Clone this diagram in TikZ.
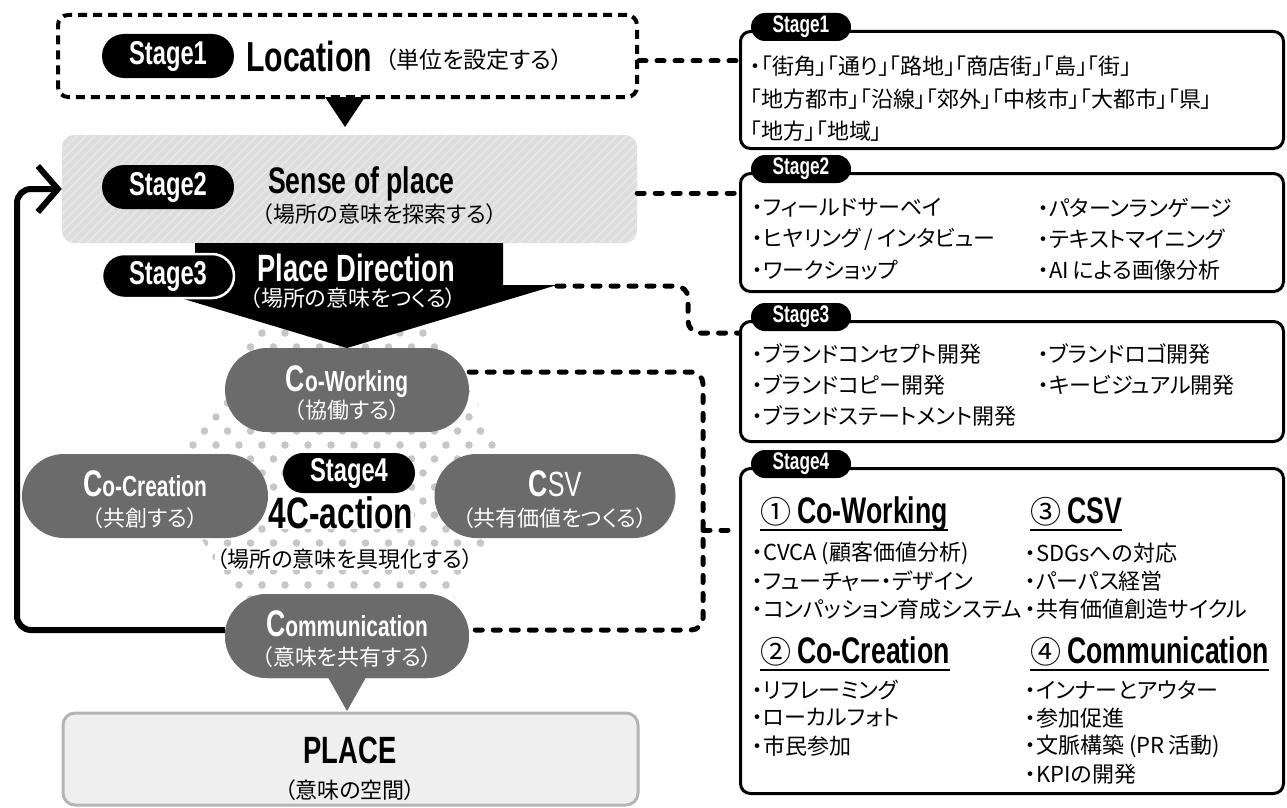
\documentclass[tikz,border=0pt]{standalone}
\usepackage{fontspec}
\usetikzlibrary{shapes.misc,arrows.meta,calc}
\newfontfamily\jp[RawFeature=+palt]{Noto Sans CJK JP}
\newfontfamily\jpn{Noto Sans CJK JP}
\newfontfamily\cond[FakeStretch=0.72]{Liberation Sans}
\newcommand\fs[1]{\fontsize{#1}{#1}\selectfont}
\newcommand\ctl[2]{{\fs{37}#1}{\fs{29}#2}}
\definecolor{pillgray}{HTML}{6B6B6B}
\definecolor{dotgray}{HTML}{C6C6C6}
\definecolor{boxgray}{HTML}{DDDDDD}
\definecolor{hatchc}{HTML}{E8E8E8}
\definecolor{placefill}{HTML}{EFEFEF}
\definecolor{placeedge}{HTML}{B4B4B4}
\tikzset{
  blackpill/.style={rounded rectangle, fill=black, text=white, minimum width=132pt, minimum height=44pt, inner sep=0pt, font=\cond\bfseries\fs{33}},
  tabpill/.style={rounded rectangle, fill=black, text=white, minimum width=100pt, minimum height=28pt, inner sep=0pt, font=\cond\bfseries\fs{24}},
  cpill/.style={rounded rectangle, fill=pillgray, minimum height=84pt, inner sep=0pt},
  rbox/.style={draw=black, line width=3pt, rounded corners=10pt, anchor=north west, inner sep=0pt, minimum width=543pt},
  body/.style={anchor=west, inner sep=0pt, font=\jp\fs{22}},
  ctitle/.style={anchor=base, inner sep=0pt, text=white, font=\cond\bfseries},
  csub/.style={inner sep=0pt, text=white, font=\jp\fs{22}},
  head/.style={anchor=base west, inner sep=0pt, font=\cond\bfseries\fs{37}},
  conn/.style={line width=5pt, dash pattern=on 7pt off 11pt, line cap=round},
}
\begin{document}
\begin{tikzpicture}[x=1pt,y=-1pt]
\useasboundingbox (0,0) rectangle (1287,808);
% dotted hexagon
\begin{scope}
\clip (522,481) -- (433.5,328) -- (256.5,328) -- (168,481) -- (256.5,634) -- (433.5,634) -- cycle;
\foreach \j in {0,...,21}{
  \foreach \i in {0,...,15}{
    \pgfmathsetmacro\dx{170+\i*23+mod(\j,2)*11.5}
    \pgfmathsetmacro\dy{333+\j*14}
    \fill[dotgray] (\dx,\dy) circle[radius=3.8pt];
  }
}
\end{scope}
% Stage 1
\node[draw, line width=4pt, dash pattern=on 9pt off 6pt, rounded corners=10pt, minimum width=579pt, minimum height=82pt] (s1box) at (347.5,56) {};
\node[blackpill] (p1) at (168,56) {Stage1};
\node[anchor=base west, inner sep=0pt, font=\cond\bfseries\fs{42}] (loc) at (246,71) {Location};
\node[anchor=base west, inner sep=0pt, font=\jp\fs{23}] (locj) at (385,68) {（単位を設定する）};
\fill (325,97) -- (365,97) -- (345,127) -- cycle;
% Stage 2
\node[fill=boxgray, rounded corners=12pt, minimum width=575pt, minimum height=108pt] (s2box) at (349.5,189) {};
\begin{scope}
\clip[rounded corners=12pt] (62,135) rectangle (637,243);
\foreach \k in {-120,-111,...,640}{
  \draw[hatchc, line width=1.5pt] (\k,243) -- ++(108,-108);
}
\end{scope}
\node[blackpill] (p2) at (168,187) {Stage2};
\node[anchor=base west, inner sep=0pt, font=\cond\bfseries\fs{37}] (sop) at (268,193) {Sense of place};
\node[anchor=west, inner sep=0pt, font=\jp\fs{22}] (sopj) at (262,214) {（場所の意味を探索する）};
% Stage 3
\fill (195,243) -- (503,243) -- (503,285) -- (557,285) -- (347,348) -- (137,285) -- (195,285) -- cycle;
\coordinate (s3tip) at (557,286);
\node[blackpill, draw=white, line width=2.5pt] (p3) at (168,276) {Stage3};
\node[anchor=base west, inner sep=0pt, text=white, font=\cond\bfseries\fs{38}] (pd) at (257,281) {Place Direction};
\node[anchor=west, inner sep=0pt, text=white, font=\jp\fs{22}] (pdj) at (250,298) {（場所の意味をつくる）};
% feedback loop
\node[cpill, minimum width=244pt] (comm) at (347,636) {};
\draw[line width=6pt, rounded corners=14pt, -{Straight Barb[length=20pt,width=46pt]}] ([yshift=6pt]comm.west) -- (17,630) -- (17,189) -- (s2box.west);
% 4C pills
\node[cpill, minimum width=244pt] (cw) at (347,390) {};
\node[cpill, minimum width=246pt] (cc) at (145,496) {};
\node[cpill, minimum width=241pt] (csv) at (555,496) {};
\node[cpill, minimum width=244pt] (comm) at (347,636) {};
\fill[pillgray] (325,672) -- (369,672) -- (347,711) -- cycle;
\node[ctitle] at ($(cw)+(0,1)$) {\ctl{C}{o-Working}};
\node[csub] at ($(cw)+(0,20)$) {（協働する）};
\node[ctitle] at ($(cc)+(0,0)$) {\ctl{C}{o-Creation}};
\node[csub] at ($(cc)+(0,22)$) {（共創する）};
\node[ctitle] at ($(csv)+(0,0)$) {{\fs{37}C}{\mdseries\fs{35}SV}};
\node[csub] at ($(csv)+(0,22)$) {（共有価値をつくる）};
\node[ctitle] at ($(comm)+(0,0)$) {\ctl{C}{ommunication}};
\node[csub] at ($(comm)+(0,21)$) {（意味を共有する）};
\node[blackpill, minimum height=40pt] (p4) at (349,473) {Stage4};
\node[anchor=base, inner sep=1pt, fill=white, font=\cond\bfseries\fs{44}] (act) at (341,528) {4C-action};
\node[inner sep=1pt, fill=white, font=\jp\fs{22}] (actj) at (345,559) {（場所の意味を具現化する）};
% PLACE
\node[fill=placefill, draw=placeedge, line width=3pt, rounded corners=12pt, minimum width=575pt, minimum height=92pt] (place) at (350.5,759) {};
\node[inner sep=0pt, font=\cond\bfseries\fs{38}] at (350,750) {PLACE};
\node[inner sep=0pt, font=\jp\fs{22}] at (350,790) {（意味の空間）};
% right boxes
\node[rbox, minimum height=117pt] (r1) at (739,30) {};
\node[tabpill] (t1) at (801,27) {Stage1};
\node[body] at (750,66) {・「街角」「通り」「路地」「商店街」「島」「街」};
\node[body] at (750,99) {「地方都市」「沿線」「郊外」「中核市」「大都市」「県」};
\node[body] at (750,131) {「地方」「地域」};
\node[rbox, minimum height=118pt] (r2) at (739,172) {};
\node[tabpill] (t2) at (801,169) {Stage2};
\node[body] at (752,208) {・フィールドサーベイ};
\node[body] at (752,239) {・ヒヤリング\,/\,インタビュー};
\node[body] at (752,270) {・ワークショップ};
\node[body] at (1038,208) {・パターンランゲージ};
\node[body] at (1038,239) {・テキストマイニング};
\node[body] at (1038,270) {・AI\,による画像分析};
\node[rbox, minimum height=120pt] (r3) at (739,320) {};
\node[tabpill] (t3) at (801,317) {Stage3};
\node[body] at (752,354) {・ブランドコンセプト開発};
\node[body] at (752,385) {・ブランドコピー開発};
\node[body] at (752,416) {・ブランドステートメント開発};
\node[body] at (1038,354) {・ブランドロゴ開発};
\node[body] at (1038,385) {・キービジュアル開発};
\node[rbox, minimum height=325pt] (r4) at (739,467) {};
\node[tabpill] (t4) at (801,464) {Stage4};
\node[head] (h1) at (760,523) {{\jpn\mdseries\fs{31}①}\,Co-Working};
\node[head] (h3) at (1030,523) {{\jpn\mdseries\fs{31}③}\,CSV};
\node[head] (h2) at (760,663) {{\jpn\mdseries\fs{31}②}\,Co-Creation};
\node[head] (h4) at (1030,663) {{\jpn\mdseries\fs{31}④}\,Communication};
\foreach \h in {h1,h2,h3,h4}{
  \draw[line width=2.5pt] ([yshift=-7pt]\h.base west) -- ([yshift=-7pt]\h.base east);
}
\node[body] at (752,553) {・CVCA (顧客価値分析)};
\node[body] at (752,581) {・フューチャー・デザイン};
\node[body] at (752,609) {・コンパッション育成システム};
\node[body] at (1025,553) {・SDGsへの対応};
\node[body] at (1025,581) {・パーパス経営};
\node[body] at (1025,609) {・共有価値創造サイクル};
\node[body] at (752,690) {・リフレーミング};
\node[body] at (752,718) {・ローカルフォト};
\node[body] at (752,746) {・市民参加};
\node[body] at (1025,690) {・インナーとアウター};
\node[body] at (1025,718) {・参加促進};
\node[body] at (1025,746) {・文脈構築 (PR\,活動)};
\node[body] at (1025,774) {・KPIの開発};
% dashed connectors
\draw[conn] ([yshift=-5pt]s1box.east) -- ([yshift=-5pt]s1box.east -| r1.west);
\draw[conn] ([yshift=-4pt]s2box.east) -- ([yshift=-4pt]s2box.east -| r2.west);
\coordinate (c3a) at (688,286);
\coordinate (c3b) at (688,333);
\draw[conn, rounded corners=12pt] (s3tip) -- (c3a) -- (c3b) -- (c3b -| r3.west);
\coordinate (c4a) at (703,372);
\coordinate (c4b) at (703,630);
\coordinate (c4m) at (703,530);
\draw[conn, rounded corners=12pt] ([yshift=18pt]cw.east) -- (c4a) -- (c4b) -- ([yshift=6pt]comm.east);
\draw[conn] (c4m) -- (c4m -| r4.west);
\end{tikzpicture}
\end{document}
